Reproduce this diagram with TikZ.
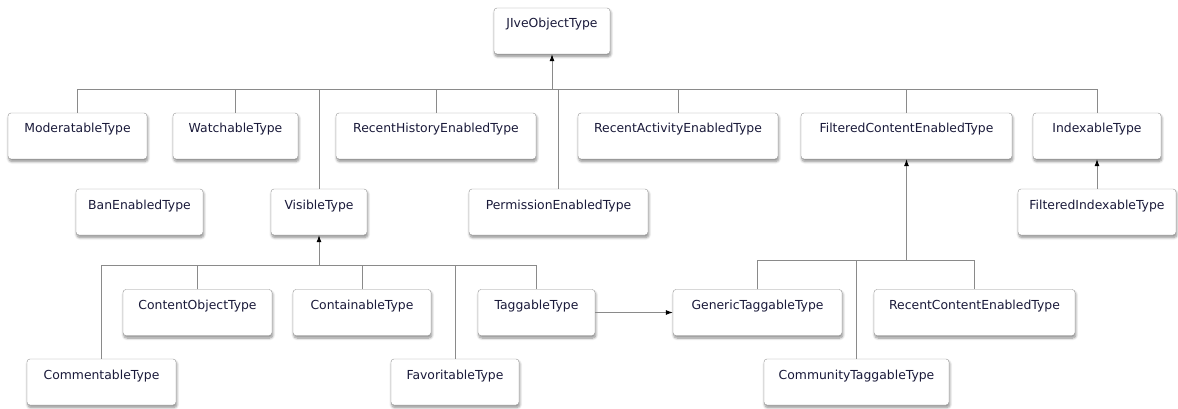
\documentclass[tikz,border=0pt]{standalone}
\usepackage{fontspec}
\setmainfont{DejaVu Sans}
\usepackage{tikz}
\usetikzlibrary{arrows.meta,shadows.blur}
\usepackage{xcolor}
\definecolor{linegray}{HTML}{8A8A8A}
\definecolor{boxgray}{HTML}{959595}
\definecolor{typeink}{HTML}{1A1A3A}

\begin{document}
\begin{tikzpicture}[x=1pt, y=-1pt,
	typebox/.style={draw=boxgray, fill=white, rounded corners=3pt, inner xsep=0pt, inner ysep=0pt,
		text height=20pt, text depth=26pt, font=\fontsize{12.4}{14}\selectfont, text=typeink,
		blur shadow={shadow xshift=0.8pt, shadow yshift=-2.5pt, shadow blur radius=2.5pt, shadow blur steps=8, shadow opacity=45}},
	wire/.style={draw=linegray, line width=0.8pt},
	inherit/.style={wire, -{Latex[length=7pt, width=5pt, color=black]}}
	]
	\useasboundingbox (0,0) rectangle (1178,409);
	
	\foreach \id/\x/\y/\w/\name in {
		jive/552/31/116/JIveObjectType,
		moderatable/77.5/136/139/ModeratableType,
		watchable/235.5/136/125/WatchableType,
		recenthistory/436/136/200/RecentHistoryEnabledType,
		recentactivity/678/136/200/RecentActivityEnabledType,
		filteredcontent/906.5/136/211/FilteredContentEnabledType,
		indexable/1097/136/128/IndexableType,
		banenabled/139.5/212/127/BanEnabledType,
		visible/319/212/96/VisibleType,
		permission/558.5/212/179/PermissionEnabledType,
		filteredindexable/1097/212/158/FilteredIndexableType,
		contentobject/197.5/312.5/149/ContentObjectType,
		containable/362/312.5/138/ContainableType,
		taggable/536.5/312.5/117/TaggableType,
		generic/757.5/312.5/169/GenericTaggableType,
		recentcontent/974.5/312.5/201/RecentContentEnabledType,
		commentable/101.5/382/149/CommentableType,
		favoritable/455/382/128/FavoritableType,
		communitytaggable/856.5/382/185/CommunityTaggableType
	}
	{
		\node [typebox, minimum width=\w pt] (\id) at (\x,\y) {\name};
	}
	
	\coordinate (topbus) at (0,89);
	\coordinate (visbus) at (0,265);
	\coordinate (filtbus) at (0,260);
	
	\draw [wire] (moderatable.north) |- (indexable.north |- topbus) -- (indexable.north);
	\foreach \n in {watchable, visible, recenthistory, permission, recentactivity, filteredcontent}
	{
		\draw [wire] (\n.north) -- (\n.north |- topbus);
	}
	\draw [inherit] (jive.south |- topbus) -- (jive.south);
	
	\draw [wire] (commentable.north) |- (taggable.north |- visbus) -- (taggable.north);
	\foreach \n in {contentobject, containable, favoritable}
	{
		\draw [wire] (\n.north) -- (\n.north |- visbus);
	}
	\draw [inherit] (visible.south |- visbus) -- (visible.south);
	
	\draw [wire] (generic.north) |- (recentcontent.north |- filtbus) -- (recentcontent.north);
	\draw [wire] (communitytaggable.north) -- (communitytaggable.north |- filtbus);
	\draw [inherit] (filteredcontent.south |- filtbus) -- (filteredcontent.south);
	
	\draw [inherit] (filteredindexable.north) -- (indexable.south);
	\draw [inherit] (taggable.east) -- (generic.west);
\end{tikzpicture}
\end{document}
